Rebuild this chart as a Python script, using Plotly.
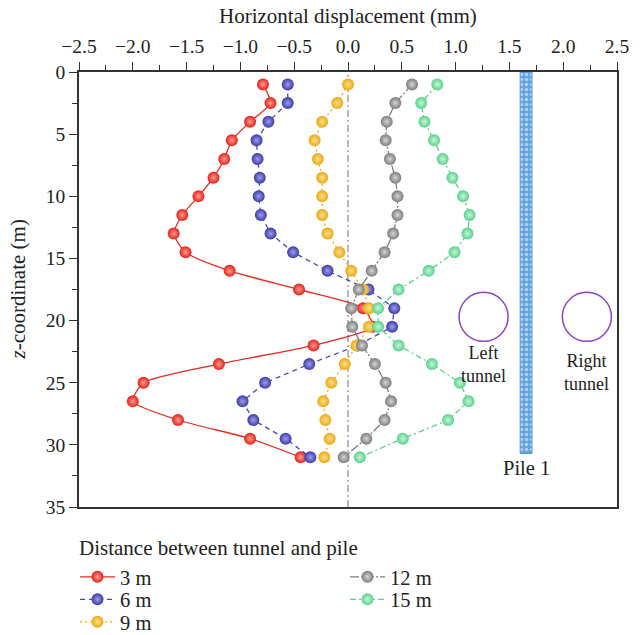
import plotly.graph_objects as go

# Depth below ground surface (m)
depth = [1, 2.5, 4, 5.5, 7, 8.5, 10, 11.5, 13, 14.5, 16,
         17.5, 19, 20.5, 22, 23.5, 25, 26.5, 28, 29.5, 31]

# Horizontal displacement of pile (mm) for each tunnel-pile distance
disp_3m = [-0.79, -0.72, -0.91, -1.08, -1.15, -1.25, -1.39, -1.54, -1.62, -1.51, -1.10,
           -0.455, 0.14, 0.23, -0.32, -1.20, -1.90, -2.00, -1.58, -0.91, -0.44]
disp_6m = [-0.56, -0.56, -0.74, -0.85, -0.84, -0.82, -0.83, -0.81, -0.72, -0.51, -0.19,
           0.19, 0.43, 0.41, 0.09, -0.36, -0.77, -0.98, -0.88, -0.58, -0.35]
disp_9m = [0.00, -0.10, -0.24, -0.31, -0.28, -0.24, -0.24, -0.24, -0.19, -0.08, 0.03,
           0.14, 0.195, 0.195, 0.08, -0.03, -0.155, -0.23, -0.21, -0.17, -0.22]
disp_12m = [0.595, 0.44, 0.36, 0.35, 0.39, 0.44, 0.46, 0.46, 0.42, 0.34, 0.22,
            0.10, 0.03, 0.04, 0.13, 0.25, 0.35, 0.40, 0.34, 0.17, -0.04]
disp_15m = [0.83, 0.68, 0.71, 0.80, 0.88, 0.97, 1.07, 1.13, 1.11, 0.99, 0.75,
            0.47, 0.28, 0.28, 0.47, 0.78, 1.04, 1.12, 0.93, 0.51, 0.11]

series_names = ["3 m", "6 m", "9 m", "12 m", "15 m"]

# Pile 1 and tunnel sketch (x in mm-axis units, depth in m)
pile_x = 1.655
pile_width = 0.11
pile_length = 30.7
tunnel_depth = 19.7
left_tunnel_x = 1.26
right_tunnel_x = 2.22
tunnel_rx = 0.228
tunnel_ry = 1.97

W, H = 642, 635
M_L, M_R, M_T, M_B = 79, 25, 72, 128
FONT = "Liberation Serif"
TXT = "#222222"

styles = {
    "3 m":  dict(color="#e3231b", line="#e52a20", light="#ff9a90", dash="solid", shape="spline"),
    "6 m":  dict(color="#3c3ca4", line="#4646b4", light="#9c9cf0", dash="5px,4px", shape="linear"),
    "9 m":  dict(color="#eba814", line="#eba814", light="#ffe08a", dash="2px,3px", shape="linear"),
    "12 m": dict(color="#7d7d7d", line="#7d7d7d", light="#d4d4d4", dash="9px,2px,2px,2px", shape="linear"),
    "15 m": dict(color="#5bd08c", line="#5bd08c", light="#c4f7d8", dash="6px,3px,2px,3px", shape="linear"),
}
data = {"3 m": disp_3m, "6 m": disp_6m, "9 m": disp_9m, "12 m": disp_12m, "15 m": disp_15m}

# Legend slots (pixel positions): two columns, 3/6/9 m left and 12/15 m right
legend_slots = {
    "3 m":  ("legend", 75, 577),
    "6 m":  ("legend2", 75, 599.5),
    "9 m":  ("legend3", 75, 622),
    "12 m": ("legend4", 345, 577),
    "15 m": ("legend5", 345, 599.5),
}

fig = go.Figure()

# Pile drawn as a patterned vertical bar
fig.add_trace(go.Bar(
    x=[pile_x], y=[pile_length], base=0, width=pile_width,
    marker=dict(color="#62a2de", line=dict(color="#5894d2", width=1),
                pattern=dict(shape=".", fgcolor="white", bgcolor="#62a2de",
                             size=5, solidity=0.4)),
    showlegend=False, hoverinfo="skip",
))

for name in ["3 m", "6 m", "9 m", "15 m", "12 m"]:
    s = styles[name]
    fig.add_trace(go.Scatter(
        x=data[name], y=depth, name=name, mode="lines+markers",
        line=dict(color=s["line"], width=1.3, dash=s["dash"], shape=s["shape"],
                  smoothing=0.6 if s["shape"] == "spline" else None),
        marker=dict(size=12, color=s["color"], line=dict(width=0),
                    gradient=dict(type="radial", color=s["light"])),
        legend=legend_slots[name][0],
    ))

shapes = [
    # zero-displacement reference line
    dict(type="line", xref="x", yref="paper", x0=0, x1=0, y0=0, y1=1,
         line=dict(color="#8a8a8a", width=1.2, dash="7px,3px,2px,3px"), layer="below"),
]
for tx in [left_tunnel_x, right_tunnel_x]:
    shapes.append(dict(type="circle", xref="x", yref="y",
                       x0=tx - tunnel_rx, x1=tx + tunnel_rx,
                       y0=tunnel_depth - tunnel_ry, y1=tunnel_depth + tunnel_ry,
                       line=dict(color="#8e44c8", width=1.5)))

plot_w = W - M_L - M_R
plot_h = H - M_T - M_B

annotations = [
    dict(x=left_tunnel_x, y=23.5, xref="x", yref="y", text="Left<br>tunnel",
         showarrow=False, font=dict(family=FONT, size=18, color=TXT)),
    dict(x=right_tunnel_x, y=24.2, xref="x", yref="y", text="Right<br>tunnel",
         showarrow=False, font=dict(family=FONT, size=18, color=TXT)),
    dict(x=pile_x, y=31.9, xref="x", yref="y", text="Pile 1",
         showarrow=False, font=dict(family=FONT, size=20.5, color=TXT)),
    # legend heading
    dict(x=(77 - M_L) / plot_w, y=((H - M_B) - 548) / plot_h, xref="paper", yref="paper",
         xanchor="left", yanchor="middle", showarrow=False,
         text="Distance between tunnel and pile",
         font=dict(family=FONT, size=21, color=TXT)),
    # vertical axis title
    dict(x=(17 - M_L) / plot_w, y=0.5, xref="paper", yref="paper",
         xanchor="center", yanchor="middle", showarrow=False, textangle=-90,
         text="<i>z</i>-coordinate (m)",
         font=dict(family=FONT, size=21, color=TXT)),
    # horizontal axis title, measured from the top of the plot area
    dict(x=0.5, y=1 + (M_T - 16) / plot_h, xref="paper", yref="paper",
         xanchor="center", yanchor="middle", showarrow=False,
         text="Horizontal displacement (mm)",
         font=dict(family=FONT, size=21, color=TXT)),
]

legend_layout = {}
for name, (key, px, py) in legend_slots.items():
    legend_layout[key] = dict(
        xref="container", yref="container",
        x=px / W, y=1 - py / H, xanchor="left", yanchor="middle",
        font=dict(family=FONT, size=20.5, color=TXT), itemwidth=35,
        bgcolor="rgba(0,0,0,0)", borderwidth=0,
    )

fig.update_layout(
    width=W, height=H,
    margin=dict(l=M_L, r=M_R, t=M_T, b=M_B, autoexpand=False),
    paper_bgcolor="white", plot_bgcolor="white",
    font=dict(family=FONT, size=19.5, color=TXT),
    shapes=shapes, annotations=annotations,
    barmode="overlay",
    **legend_layout,
    xaxis=dict(
        side="top", range=[-2.5, 2.5], dtick=0.5, tick0=0, tickformat=".1f",
        ticks="outside", ticklen=8, tickwidth=1.3, tickcolor="#333",
        minor=dict(dtick=0.25, ticks="outside", ticklen=5, tickwidth=1.3, tickcolor="#333"),
        showline=True, linecolor="#333", linewidth=1.5, mirror=True,
        showgrid=False, zeroline=False, ticklabelstandoff=1,
        tickfont=dict(family=FONT, size=19.5),
    ),
    yaxis=dict(
        range=[35, 0], dtick=5, tick0=0,
        ticks="outside", ticklen=8, tickwidth=1.3, tickcolor="#333",
        minor=dict(dtick=2.5, ticks="outside", ticklen=5, tickwidth=1.3, tickcolor="#333"),
        showline=True, linecolor="#333", linewidth=1.5, mirror=True,
        showgrid=False, zeroline=False,
        tickfont=dict(family=FONT, size=19.5),
    ),
)

fig.write_html("out.html")
